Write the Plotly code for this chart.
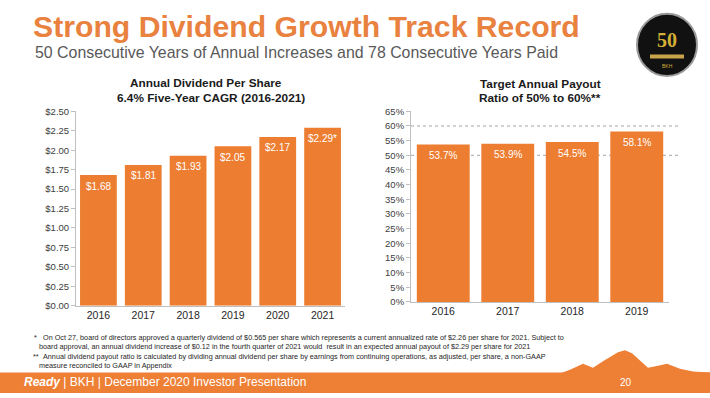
import plotly.graph_objects as go

# ---------------- data ----------------
div_years = ["2016", "2017", "2018", "2019", "2020", "2021"]
div_values = [1.68, 1.81, 1.93, 2.05, 2.17, 2.29]
div_labels = ["$1.68", "$1.81", "$1.93", "$2.05", "$2.17", "$2.29*"]

payout_years = ["2016", "2017", "2018", "2019"]
payout_values = [53.7, 53.9, 54.5, 58.1]
payout_labels = ["53.7%", "53.9%", "54.5%", "58.1%"]
target_band = [50, 60]

div_ticks = [0, 0.25, 0.5, 0.75, 1.0, 1.25, 1.5, 1.75, 2.0, 2.25, 2.5]
div_ticktext = ["$0.00", "$0.25", "$0.50", "$0.75", "$1.00", "$1.25", "$1.50",
                "$1.75", "$2.00", "$2.25", "$2.50"]

W, H = 710, 398
def px(x):
    return x / W
def py(y):
    return 1 - y / H

ORANGE = "#ED7D31"
FONT = "Liberation Sans, Arial, sans-serif"
AXIS = "#BFBFBF"
TXT = "#404040"

fig = go.Figure()
fig.add_trace(go.Bar(
    x=div_years, y=div_values, marker=dict(color=ORANGE, line=dict(width=0)),
    xaxis="x", yaxis="y", hoverinfo="skip",
))
fig.add_trace(go.Bar(
    x=payout_years, y=payout_values, marker=dict(color=ORANGE, line=dict(width=0)),
    xaxis="x2", yaxis="y2", hoverinfo="skip",
))

axis_common = dict(showgrid=False, zeroline=False, showline=True, linecolor=AXIS,
                   linewidth=1, tickfont=dict(size=9.5, color=TXT, family=FONT))
xfont = dict(size=10.5, color="#262626", family=FONT)

fig.update_layout(
    width=W, height=H, margin=dict(l=0, r=0, t=0, b=0),
    paper_bgcolor="white", plot_bgcolor="rgba(0,0,0,0)",
    showlegend=False, bargap=0.18,
    font=dict(family=FONT),
    xaxis=dict(domain=[px(76), px(345)], anchor="y", ticks="", type="category",
               range=[-0.5, len(div_years) - 0.5], **{**axis_common, "tickfont": xfont}),
    yaxis=dict(domain=[py(308.3), py(108.3)], anchor="x", range=[0, 2.5],
               tickvals=div_ticks, ticktext=div_ticktext, ticks="outside",
               ticklen=4, tickcolor=AXIS, **axis_common),
    xaxis2=dict(domain=[px(411), px(669)], anchor="y2", ticks="", type="category",
                range=[-0.5, len(payout_years) - 0.5], **{**axis_common, "tickfont": xfont}),
    yaxis2=dict(domain=[py(304.3), py(108.3)], anchor="x2", range=[0, 65],
                dtick=5, ticksuffix="%", ticks="outside", ticklen=4,
                tickcolor=AXIS, **axis_common),
)

shapes = []
for v in target_band:
    shapes.append(dict(type="line", xref="paper", yref="y2", x0=px(411), x1=px(680),
                       y0=v, y1=v, line=dict(color="#A6A6A6", width=1, dash="dot"),
                       layer="below"))
FOOT = "#EE8035"
shapes.append(dict(type="rect", xref="paper", yref="paper", x0=0, x1=1,
                   y0=0, y1=py(377), fillcolor=FOOT, line=dict(width=0)))
mx = [560, 570, 583, 593, 605, 618, 625, 632, 648, 658, 667, 680, 693, 710, 710, 560]
my = [378, 374, 368, 372, 364, 356, 354, 357, 372, 370, 368, 373, 376, 377, 380, 380]
path = "M " + " L ".join(f"{px(a):.4f},{py(b):.4f}" for a, b in zip(mx, my)) + " Z"
shapes.append(dict(type="path", xref="paper", yref="paper", path=path,
                   fillcolor=FOOT, line=dict(width=0)))
shapes.append(dict(type="circle", xref="paper", yref="paper",
                   x0=px(637), x1=px(697), y0=py(72), y1=py(8),
                   fillcolor="#111111", line=dict(color="#9A9A9A", width=2)))
shapes.append(dict(type="rect", xref="paper", yref="paper",
                   x0=px(650), x1=px(684), y0=py(54), y1=py(50),
                   fillcolor="#C9A34A", line=dict(width=0)))
fig.update_layout(shapes=shapes)

ann = []
def text(t, x, y, size, color="#262626", xanchor="left", bold=False, family=FONT):
    ann.append(dict(text=(f"<b>{t}</b>" if bold else t), x=px(x), y=py(y),
                    xref="paper", yref="paper", xanchor=xanchor, yanchor="middle",
                    showarrow=False, font=dict(size=size, color=color, family=family)))

# value labels at the top inside each bar (category index positions)
for i, (yv, lab) in enumerate(zip(div_values, div_labels)):
    ann.append(dict(text=lab, x=i, y=yv, xref="x", yref="y", yanchor="middle",
                    yshift=-11, showarrow=False,
                    font=dict(size=10, color="white", family=FONT)))
for i, (yv, lab) in enumerate(zip(payout_values, payout_labels)):
    ann.append(dict(text=lab, x=i, y=yv, xref="x2", yref="y2", yanchor="middle",
                    yshift=-11, showarrow=False,
                    font=dict(size=10, color="white", family=FONT)))

text("Strong Dividend Growth Track Record", 31, 21, 30.2, "#E9813F", bold=True)
text("50 Consecutive Years of Annual Increases and 78 Consecutive Years Paid", 33, 48, 15.9, "#595959")
text("Annual Dividend Per Share", 205.5, 79, 11.8, "#1a1a1a", "center", True)
text("6.4% Five-Year CAGR (2016-2021)", 211, 94.5, 11.8, "#1a1a1a", "center", True)
text("Target Annual Payout", 540.5, 80, 11.8, "#1a1a1a", "center", True)
text("Ratio of 50% to 60%**", 540, 95, 11.8, "#1a1a1a", "center", True)

fn = 7.25
text("*", 32, 341, fn)
text("On Oct 27, board of directors approved a quarterly dividend of $0.565 per share which represents a current annualized rate of $2.26 per share for 2021. Subject to", 41, 341, fn)
text("board approval, an annual dividend increase of $0.12 in the fourth quarter of 2021 would  result in an expected annual payout of $2.29 per share for 2021", 37, 350.5, fn)
text("**", 31, 360, fn)
text("Annual dividend payout ratio is calculated by dividing annual dividend per share by earnings from continuing operations, as adjusted, per share, a non-GAAP", 41, 360, fn)
text("measure reconciled to GAAP in Appendix", 37, 369.5, fn)

text("<b><i>Ready</i></b> | BKH | December 2020 Investor Presentation", 22, 387, 12, "white")
text("20", 626, 387, 10, "white", "center")

text("50", 667, 35, 20, "#D4AF37", "center", True, "Liberation Serif, serif")
text("BKH", 667, 62, 5, "#D4AF37", "center")

fig.update_layout(annotations=ann)
fig.write_html("out.html", config={"displayModeBar": False},
               post_script="document.body.style.margin='0';")
